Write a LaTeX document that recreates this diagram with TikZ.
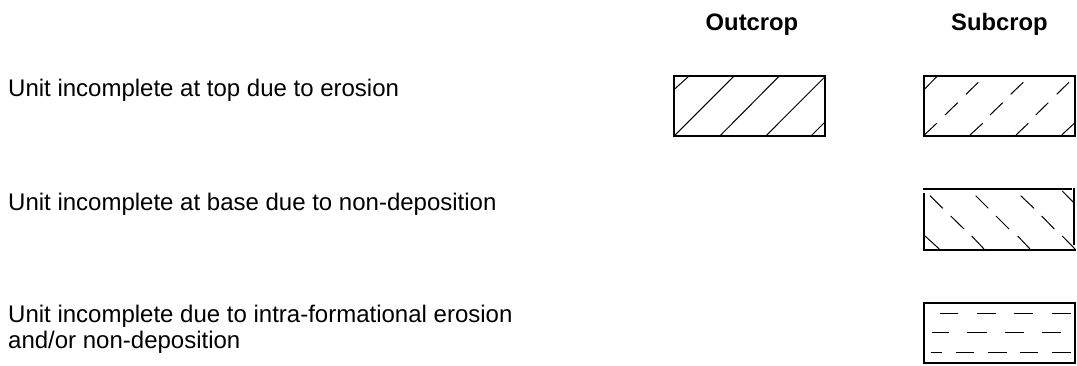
\documentclass[tikz,border=0pt]{standalone}
\usepackage{fontspec}
\setmainfont{Liberation Sans}
\begin{document}
\begin{tikzpicture}[x=1pt,y=-1pt,
  lbl/.style={inner sep=0pt,anchor=base west,font=\fontsize{24}{26}\selectfont},
  hdr/.style={inner sep=0pt,anchor=base,font=\fontsize{23.8}{26}\selectfont\bfseries},
  frame/.style={line width=1.5pt,line cap=rect},
  hatch/.style={line width=1pt}]
\useasboundingbox[fill=white] (0,0) rectangle (1077,365);

\node[hdr] (hout) at (752,30) {Outcrop};
\node[hdr] (hsub) at (999.5,30) {Subcrop};

\node[lbl] (t1) at (8,96.7) {Unit incomplete at top due to erosion};
\node[lbl] (t2) at (8,210.5) {Unit incomplete at base due to non-deposition};
\node[lbl] (t3a) at (8,322) {Unit incomplete due to intra-formational erosion};
\node[lbl] (t3b) at (8,348) {and/or non-deposition};

% Box 1: outcrop, erosion at top
\draw[frame] (674.2,75.8) rectangle (825.2,135.8);
\draw[hatch] (674.3,89.3) -- (689.3,75.8)
  (674.3,135.8) -- (734.3,75.8)
  (720,135.8) -- (779.5,75.8)
  (766,135.8) -- (825.2,76.5)
  (811.2,135.8) -- (825.2,121.8);

% Box 2: subcrop, erosion at top
\draw[frame] (924.2,75.8) rectangle (1075.2,135.8);
\draw[hatch] (924.3,89.3) -- (936.7,76.7)
  (966,94.3) -- (978.3,82.3)
  (1010.7,94.3) -- (1023.3,82.3)
  (1056.7,94.3) -- (1069,82.3)
  (945,115) -- (957.7,102.7)
  (990,115) -- (1002.7,102.7)
  (1035.7,115) -- (1048.3,102.7)
  (924.3,135) -- (936.7,123.3)
  (970,135) -- (982.7,123.3)
  (1016,135) -- (1028.3,123.3)
  (1061.7,135) -- (1074.3,123.3);

% Box 3: subcrop, non-deposition at base
\draw[frame,line cap=butt] (923.3,189.2) -- (1071.7,189.2);
\draw[frame,line cap=butt] (924.2,193.3) -- (924.2,249.8);
\draw[frame,line cap=butt] (923.3,249.8) -- (1075.7,249.8);
\draw[frame,line cap=butt] (1074.2,188.3) -- (1074.2,245);
\draw[hatch] (930,195.7) -- (942.7,208.3)
  (975.7,195.7) -- (988.3,208.3)
  (1020.7,195.7) -- (1034,208.3)
  (1062.3,191) -- (1074.3,203.3)
  (950.7,216) -- (964,229)
  (996,216) -- (1009,229)
  (1041.7,216) -- (1054.3,229)
  (925,236) -- (939.3,249)
  (971.7,236) -- (984,249)
  (1017.7,236) -- (1030,249)
  (1062.3,236) -- (1075,249);

% Box 4: intra-formational
\draw[frame] (924.2,303.2) rectangle (1075.2,363.2);
\draw[hatch] (940,313.3) -- (958.3,313.3)
  (977.3,313.3) -- (996,313.3)
  (1014.3,313.3) -- (1033.3,313.3)
  (1052.3,313.3) -- (1070.7,313.3)
  (932.3,332.7) -- (949,332.7)
  (967.3,332.7) -- (986.7,332.7)
  (1005,332.7) -- (1024,332.7)
  (1042.3,332.7) -- (1061,332.7)
  (930.7,352.7) -- (942.3,352.7)
  (956,352.7) -- (974.3,352.7)
  (988.3,352.7) -- (1006.7,352.7)
  (1020,352.7) -- (1038.3,352.7)
  (1052.3,352.7) -- (1070.7,352.7);
\end{tikzpicture}
\end{document}
